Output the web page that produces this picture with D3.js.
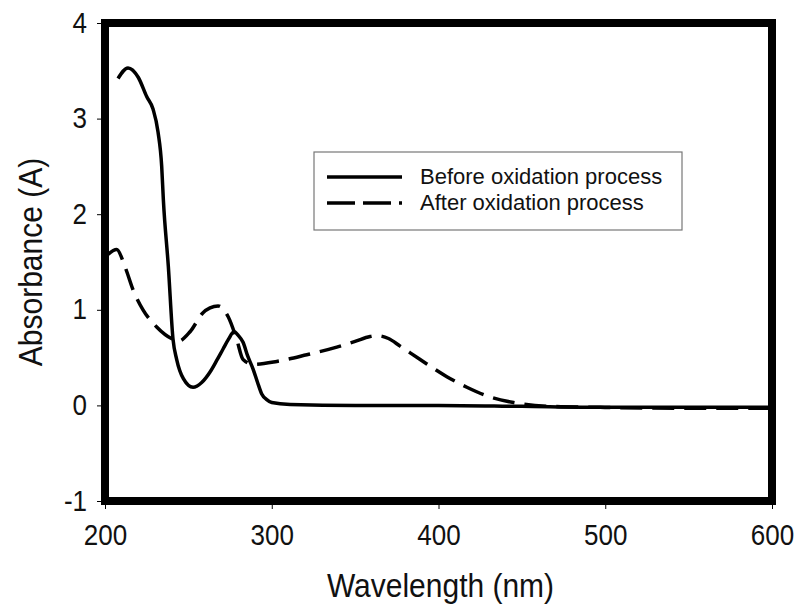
<!DOCTYPE html>
<html lang="en">
<head>
  <meta charset="UTF-8">
  <title>Absorbance spectra</title>
  <script src="https://d3js.org/d3.v7.min.js"></script>
  <style>
    body { margin: 0; background: #fff; font-family: "Liberation Sans", Arial, sans-serif; }
  </style>
</head>
<body>
<svg id="chart" width="799" height="604"></svg>
<script>
// Spectra (wavelength nm, absorbance A)
const beforeWl = [207.8, 213.8, 220, 225, 228.8, 231.8, 234, 235, 238, 240.8, 243, 247, 252.8, 258, 263, 267, 270.8, 274, 277.4, 280, 282.8, 285.5, 288.8, 291.5, 294, 297, 300, 311, 350, 400, 450, 500, 550, 600];
const beforeAbs = [3.42, 3.53, 3.43, 3.23, 3.10, 2.86, 2.50, 2.15, 1.45, 0.69, 0.48, 0.28, 0.19, 0.24, 0.35, 0.47, 0.59, 0.69, 0.77, 0.73, 0.66, 0.52, 0.38, 0.24, 0.12, 0.06, 0.03, 0.01, 0.0, 0.0, -0.01, -0.02, -0.02, -0.02];

const afterWl = [201.8, 207, 212, 216.8, 222.8, 231, 240.8, 243.8, 251, 258.8, 263, 267.8, 273.8, 279, 282.8, 288.8, 303, 321, 339, 350, 359, 363, 370, 377, 389, 405, 417, 429, 445, 467, 497, 550, 600];
const afterAbs = [1.58, 1.63, 1.45, 1.21, 1.00, 0.82, 0.69, 0.67, 0.77, 0.97, 1.02, 1.04, 0.93, 0.69, 0.48, 0.43, 0.46, 0.53, 0.61, 0.67, 0.72, 0.73, 0.70, 0.62, 0.48, 0.30, 0.19, 0.10, 0.03, -0.01, -0.02, -0.03, -0.03];

const xTicks = [200, 300, 400, 500, 600];
const yTicks = [-1, 0, 1, 2, 3, 4];
const seriesNames = ["Before oxidation process", "After oxidation process"];

const svg = d3.select("#chart");
const margin = { top: 23, right: 27, bottom: 103, left: 105 };
const width = 799, height = 604;
const stretch = 1.1; // the reference text is a little taller than wide

const x = d3.scaleLinear().domain([200, 600]).range([margin.left, width - margin.right]);
const y = d3.scaleLinear().domain([-1, 4]).range([height - margin.bottom, margin.top]);

// axes (ticks outside the frame), plain hyphen for negatives
const xAxis = svg.append("g")
  .attr("transform", `translate(0,${y(-1)})`)
  .call(d3.axisBottom(x).tickValues(xTicks).tickSize(8).tickPadding(14).tickFormat(d => String(d)));
xAxis.select(".domain").remove();
xAxis.selectAll("line").attr("stroke", "#000").attr("stroke-width", 1);
xAxis.selectAll("text")
  .attr("font-family", "Liberation Sans, Arial, sans-serif")
  .attr("font-size", 26).attr("fill", "#111")
  .attr("transform", `scale(1,${stretch})`);

const yAxis = svg.append("g")
  .attr("transform", `translate(${x(200)},0)`)
  .call(d3.axisLeft(y).tickValues(yTicks).tickSize(8).tickPadding(10).tickFormat(d => String(d)));
yAxis.select(".domain").remove();
yAxis.selectAll("line").attr("stroke", "#000").attr("stroke-width", 1);
yAxis.selectAll("text")
  .attr("font-family", "Liberation Sans, Arial, sans-serif")
  .attr("font-size", 26).attr("fill", "#111")
  .attr("transform", `scale(1,${stretch})`);

// curves
const line = d3.line()
  .x(d => x(d[0]))
  .y(d => y(d[1]))
  .curve(d3.curveMonotoneX);

svg.append("path")
  .datum(d3.zip(beforeWl, beforeAbs))
  .attr("fill", "none")
  .attr("stroke", "#000")
  .attr("stroke-width", 3.5)
  .attr("stroke-linejoin", "round")
  .attr("d", line);

svg.append("path")
  .datum(d3.zip(afterWl, afterAbs))
  .attr("fill", "none")
  .attr("stroke", "#000")
  .attr("stroke-width", 3.5)
  .attr("stroke-dasharray", "22,10")
  .attr("d", line);

// thick frame
svg.append("rect")
  .attr("x", x(200)).attr("y", y(4))
  .attr("width", x(600) - x(200))
  .attr("height", y(-1) - y(4))
  .attr("fill", "none")
  .attr("stroke", "#000")
  .attr("stroke-width", 8);

// axis titles
svg.append("text")
  .attr("transform", `translate(${(x(200) + x(600)) / 2 + 2},597) scale(1,${stretch})`)
  .attr("text-anchor", "middle")
  .attr("font-size", 30)
  .attr("fill", "#111")
  .text("Wavelength (nm)");

svg.append("text")
  .attr("transform", `translate(42,${(y(4) + y(-1)) / 2}) rotate(-90) scale(1,${stretch})`)
  .attr("text-anchor", "middle")
  .attr("font-size", 30)
  .attr("fill", "#111")
  .text("Absorbance (A)");

// legend
const legend = svg.append("g").attr("transform", "translate(314,152)");
legend.append("rect")
  .attr("width", 368).attr("height", 78)
  .attr("fill", "#fff")
  .attr("stroke", "#777")
  .attr("stroke-width", 1.2);

seriesNames.forEach((name, i) => {
  const ly = 25 + i * 26;
  legend.append("line")
    .attr("x1", 13).attr("x2", 88)
    .attr("y1", ly).attr("y2", ly)
    .attr("stroke", "#000")
    .attr("stroke-width", 3.5)
    .attr("stroke-dasharray", i === 1 ? "28,8" : null);
  legend.append("text")
    .attr("x", 106).attr("y", ly + 7)
    .attr("font-size", 22)
    .attr("fill", "#111")
    .text(name);
});
</script>
</body>
</html>
